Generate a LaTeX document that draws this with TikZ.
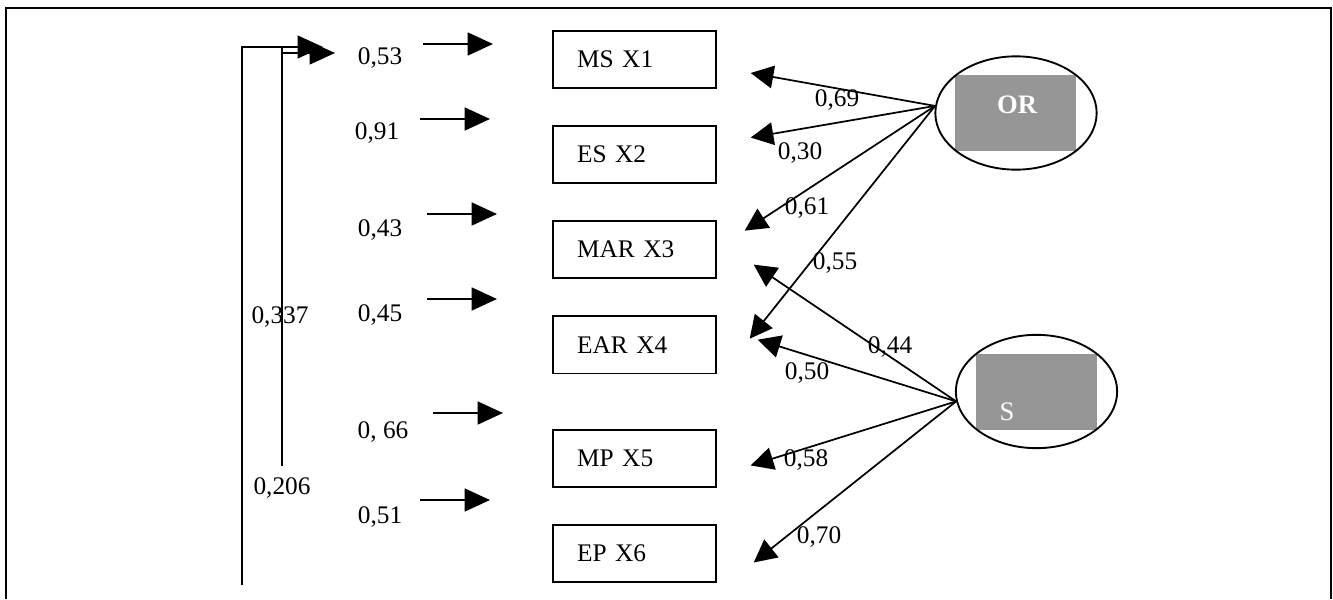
\documentclass[tikz,border=0pt]{standalone}
\usepackage{fontspec}
\setmainfont{Liberation Serif}
\usetikzlibrary{arrows.meta,positioning,shapes.geometric}
\definecolor{latentgrey}{HTML}{969696}

\tikzset{
  obsbox/.style={draw, line width=1.3pt, text width=86pt, inner xsep=18pt,
    minimum height=43pt, align=left, font=\fontsize{19}{22}\selectfont},
  latent/.style={draw, ellipse, line width=1.4pt, minimum width=121pt,
    minimum height=85pt, inner sep=0pt},
  greybox/.style={fill=latentgrey, minimum width=91pt, minimum height=57pt, inner sep=0pt},
  coef/.style={font=\fontsize{19}{22}\selectfont, inner sep=1pt},
  load/.style={line width=1.3pt, -{Triangle[length=17pt,width=17pt]}},
  err/.style={line width=2pt, -{Triangle[length=19pt,width=17pt]}},
}

\begin{document}
\begin{tikzpicture}[x=0.75pt,y=-0.75pt]
    \useasboundingbox (0,0) rectangle (1333,599);

    % frame
    \draw[line width=1.5pt] (6,599) -- (6,8) -- (1331,8) -- (1331,599);

    % observed variables
    \node[obsbox] (ms) at (634.5,59.5) {MS X1};
    \node[obsbox, below=27pt of ms] (es) {ES X2};
    \node[obsbox, below=27pt of es] (mar) {MAR X3};
    \node[obsbox, below=27pt of mar] (ear) {EAR X4};
    \node[obsbox, below=41pt of ear] (mp) {MP X5};
    \node[obsbox, below=27pt of mp] (ep) {EP X6};

    % error terms
    \foreach \n/\val/\lx/\ly/\ax/\ay in {1/{0,53}/380/58/423/44, 2/{0,91}/377/133/420/119,
        3/{0,43}/380/230/427/214, 4/{0,45}/380/315/427/299,
        5/{0, 66}/383/432/433/413, 6/{0,51}/380/517/420/500}{
      \node[coef] (e\n) at (\lx,\ly) {\val};
      \coordinate (a\n) at (\ax,\ay);
      \draw[err] (a\n) -- ++(70,0);
    }

    % correlations
    \coordinate (brA) at (242,585);
    \coordinate (brAtip) at (323,47);
    \coordinate (brB) at (282,466);
    \coordinate (brBtip) at (335,53);
    \draw[line width=1.5pt] (brB) -- (282,47);
    \draw[err, line width=1.5pt] (brA) |- (brAtip);
    \draw[err, line width=1.5pt] (brB) |- (brBtip);
    \node[coef] (r1) at (280,317) {0,337};
    \node[coef] (r2) at (282,488) {0,206};

    % latent variables
    \node[greybox] (orbg) at (1015.5,113) {};
    \node[latent] (or) at (1016,113) {};
    \node[font=\fontsize{20}{22}\selectfont\bfseries, text=white] (orlbl) at (1017,105) {OR};
    \node[greybox] (sbg) at (1036.5,391.5) {};
    \node[latent] (s) at (1036.5,391.5) {};
    \node[font=\fontsize{20}{22}\selectfont, text=white] (slbl) at (1007,412) {S};

    % loadings
    \draw[load] (or.175) -- ([shift={(34,13.5)}]ms.east);
    \draw[load] (or.175) -- ([shift={(34,-17)}]es.east);
    \draw[load] (or.175) -- ([shift={(28,-19)}]mar.east);
    \draw[load] (or.175) -- ([shift={(33,-6)}]ear.east);
    \draw[load] (s.187) -- ([shift={(37,15)}]mar.east);
    \draw[load] (s.187) -- ([shift={(41,-5)}]ear.east);
    \draw[load] (s.187) -- ([shift={(34,7)}]mp.east);
    \draw[load] (s.187) -- ([shift={(37,9)}]ep.east);

    \node[coef] (l1) at (837,100) {0,69};
    \node[coef] (l2) at (800,153) {0,30};
    \node[coef] (l3) at (807,208) {0,61};
    \node[coef] (l4) at (835,263) {0,55};
    \node[coef] (l5) at (890,347) {0,44};
    \node[coef] (l6) at (807,373) {0,50};
    \node[coef] (l7) at (806,460) {0,58};
    \node[coef] (l8) at (819,537) {0,70};

  \end{tikzpicture}
\end{document}
